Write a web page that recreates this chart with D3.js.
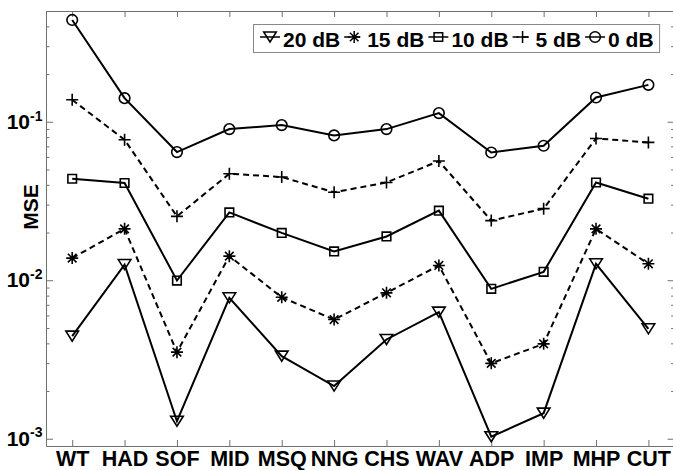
<!DOCTYPE html>
<html>
<head>
<meta charset="utf-8">
<script src="https://cdn.jsdelivr.net/npm/d3@7"></script>
<style>
  html, body { margin: 0; padding: 0; background: #fff; }
  svg { display: block; font-family: "Liberation Sans", Arial, Helvetica, sans-serif; font-weight: bold; }
</style>
</head>
<body>
<svg id="chart" width="673" height="470"></svg>
<script>
// Mean squared error per method at each noise level
const categories = ["WT", "HAD", "SOF", "MID", "MSQ", "NNG", "CHS", "WAV", "ADP", "IMP", "MHP", "CUT"];
const mse20dB = [0.00444, 0.01256, 0.00129, 0.00775, 0.00332, 0.00215, 0.00423, 0.00629, 0.00103, 0.00145, 0.0127, 0.00494];
const mse15dB = [0.0138, 0.0211, 0.00352, 0.0142, 0.00781, 0.00565, 0.00833, 0.0124, 0.00299, 0.00397, 0.0211, 0.0127];
const mse10dB = [0.0437, 0.0411, 0.00996, 0.0268, 0.0199, 0.0152, 0.0189, 0.0275, 0.00883, 0.0113, 0.0414, 0.0327];
const mse5dB  = [0.1376, 0.077, 0.0253, 0.047, 0.0448, 0.0359, 0.0414, 0.0565, 0.0238, 0.0283, 0.0785, 0.0741];
const mse0dB  = [0.439, 0.141, 0.0644, 0.0899, 0.0953, 0.082, 0.0899, 0.1134, 0.064, 0.0706, 0.1423, 0.171];
const seriesNames = ["20 dB", "15 dB", "10 dB", "5 dB", "0 dB"];
const yMajorTicks = [1e-3, 1e-2, 1e-1];
const yMajorLabels = ["-3", "-2", "-1"];
const yLabel = "MSE";

const series = [
  { name: seriesNames[0], values: mse20dB, marker: "triangle", dashed: false },
  { name: seriesNames[1], values: mse15dB, marker: "asterisk", dashed: true },
  { name: seriesNames[2], values: mse10dB, marker: "square",   dashed: false },
  { name: seriesNames[3], values: mse5dB,  marker: "plus",     dashed: true },
  { name: seriesNames[4], values: mse0dB,  marker: "circle",   dashed: false }
];

const svg = d3.select("#chart");
const plotLeft = 46, plotRight = 674.6, plotTop = 11, plotBottom = 446;
const axisColor = "#707070";

const x = d3.scalePoint().domain(categories).range([plotLeft, plotRight]).padding(0.5);
const y = d3.scaleLog().domain([0.0009, 0.5]).range([plotBottom, plotTop]);

// minor ticks on each decade
const minorTicks = [];
[1e-3, 1e-2, 1e-1].forEach(d => {
  for (let k = 2; k <= 9; k++) {
    const v = k * d;
    if (v <= 0.5) minorTicks.push(v);
  }
});

function styleAxis(g) {
  g.selectAll("path.domain").attr("stroke", axisColor).attr("stroke-width", 1);
  g.selectAll(".tick line").attr("stroke", axisColor).attr("stroke-width", 1);
}

// bottom axis with category labels
const gx = svg.append("g")
  .attr("transform", `translate(0,${plotBottom})`)
  .call(d3.axisBottom(x).tickSizeInner(-6).tickSizeOuter(0).tickPadding(5));
gx.selectAll("text").attr("font-size", 21.5).attr("font-weight", "bold").attr("fill", "#000")
  .attr("font-family", "'Liberation Sans', Arial, sans-serif");
styleAxis(gx);

// top axis (ticks only)
const gxt = svg.append("g")
  .attr("transform", `translate(0,${plotTop})`)
  .call(d3.axisTop(x).tickSizeInner(-6).tickSizeOuter(0).tickFormat(""));
styleAxis(gxt);

// left axis: major ticks with power-of-ten labels
const gy = svg.append("g")
  .attr("transform", `translate(${plotLeft},0)`)
  .call(d3.axisLeft(y).tickValues(yMajorTicks).tickSizeInner(-7).tickSizeOuter(0).tickPadding(3.5));
styleAxis(gy);
gy.selectAll(".tick text").each(function(d, i) {
  const t = d3.select(this);
  t.text(null).attr("fill", "#000").attr("font-size", 21).attr("font-weight", "bold")
    .attr("font-family", "'Liberation Sans', Arial, sans-serif");
  t.append("tspan").text("10");
  t.append("tspan").text(yMajorLabels[i]).attr("font-size", 14).attr("dy", "-8.5");
});
const gyMinor = svg.append("g")
  .attr("transform", `translate(${plotLeft},0)`)
  .call(d3.axisLeft(y).tickValues(minorTicks).tickSizeInner(-3.5).tickSizeOuter(0).tickFormat(""));
styleAxis(gyMinor);
gyMinor.select("path.domain").remove();

// right axis (ticks only)
const gyr = svg.append("g")
  .attr("transform", `translate(${plotRight},0)`)
  .call(d3.axisRight(y).tickValues(yMajorTicks).tickSizeInner(-7).tickSizeOuter(0).tickFormat(""));
styleAxis(gyr);
const gyrMinor = svg.append("g")
  .attr("transform", `translate(${plotRight},0)`)
  .call(d3.axisRight(y).tickValues(minorTicks).tickSizeInner(-3.5).tickSizeOuter(0).tickFormat(""));
styleAxis(gyrMinor);
gyrMinor.select("path.domain").remove();

// y axis title
svg.append("text")
  .attr("transform", `translate(38,207) rotate(-90)`)
  .attr("text-anchor", "middle")
  .attr("font-size", 21)
  .attr("font-weight", "bold")
  .text(yLabel);

// marker shapes
function markerPath(type) {
  switch (type) {
    case "circle": {
      const r = 5.3;
      return `M${-r},0A${r},${r} 0 1,0 ${r},0A${r},${r} 0 1,0 ${-r},0Z`;
    }
    case "square": {
      const s = 4.3;
      return `M${-s},${-s}H${s}V${s}H${-s}Z`;
    }
    case "triangle": {
      const w = 6.3, h = 5;
      return `M${-w},${-h}H${w}L0,${h}Z`;
    }
    case "plus": {
      const s = 6;
      return `M${-s},0H${s}M0,${-s}V${s}`;
    }
    case "asterisk": {
      const s = 6, d = 4.3;
      return `M${-s},0H${s}M0,${-s}V${s}M${-d},${-d}L${d},${d}M${-d},${d}L${d},${-d}`;
    }
  }
}

const line = d3.line()
  .x((d, i) => x(categories[i]))
  .y(d => y(d));

const plot = svg.append("g");
series.forEach(s => {
  plot.append("path")
    .datum(s.values)
    .attr("fill", "none")
    .attr("stroke", "#000")
    .attr("stroke-width", 2)
    .attr("stroke-dasharray", s.dashed ? "6,4" : null)
    .attr("d", line);
  plot.selectAll(null)
    .data(s.values)
    .enter().append("path")
    .attr("transform", (d, i) => `translate(${x(categories[i])},${y(d)})`)
    .attr("d", markerPath(s.marker))
    .attr("fill", "none")
    .attr("stroke", "#000")
    .attr("stroke-width", 1.6);
});

// legend across the top
const legend = svg.append("g");
const legendBox = legend.append("rect")
  .attr("x", 253.5).attr("y", 24.5).attr("height", 28)
  .attr("fill", "#fff").attr("stroke", "#888").attr("stroke-width", 1);
let cx = 260;
const lineLen = 20, textGap = 3, itemGap = 4, legY = 37;
series.forEach(s => {
  legend.append("line")
    .attr("x1", cx).attr("x2", cx + lineLen).attr("y1", legY).attr("y2", legY)
    .attr("stroke", "#000").attr("stroke-width", 1.5)
    .attr("stroke-dasharray", s.dashed ? "6,4" : null);
  legend.append("path")
    .attr("transform", `translate(${cx + lineLen / 2},${legY})`)
    .attr("d", markerPath(s.marker))
    .attr("fill", "none").attr("stroke", "#000").attr("stroke-width", 1.5);
  const t = legend.append("text")
    .attr("x", cx + lineLen + textGap).attr("y", 46.5)
    .attr("font-size", 21).attr("font-weight", "bold")
    .text(s.name);
  cx = cx + lineLen + textGap + t.node().getComputedTextLength() + itemGap;
});
legendBox.attr("width", cx + 2 - 253.5);
</script>
</body>
</html>
